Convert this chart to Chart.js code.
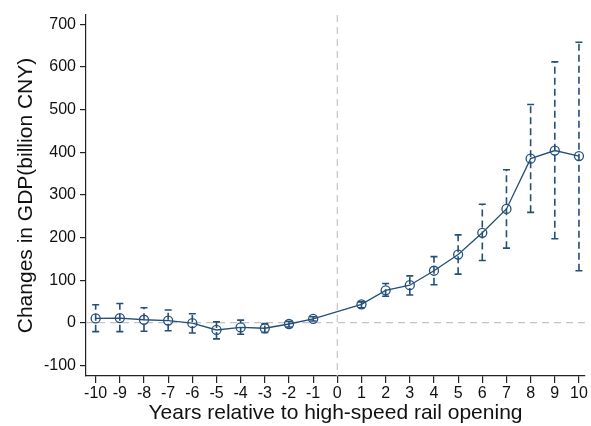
<!DOCTYPE html>
<html><head><meta charset="utf-8">
<script src="https://cdn.jsdelivr.net/npm/chart.js@4"></script>
<style>html,body{margin:0;padding:0;background:#fff}#wrap{width:591px;height:426px}</style>
</head><body><div id="wrap"><canvas id="c" width="591" height="426"></canvas></div>
<script>
const years=[-10,-9,-8,-7,-6,-5,-4,-3,-2,-1,1,2,3,4,5,6,7,8,9,10];
const coef=[10,11,7,5,-1,-17,-11,-13,-3,9,43,76,88,122,160,211,267,385,404,391];
const ciLow=[-21,-21,-20,-19,-24,-38,-27,-23,-10,4,35,62,65,89,114,146,175,259,197,122];
const ciHigh=[42,45,35,30,21,2,6,-2,3,14,49,92,110,155,206,278,359,512,612,658];
const xTicks=[-10,-9,-8,-7,-6,-5,-4,-3,-2,-1,0,1,2,3,4,5,6,7,8,9,10];
const yTicks=[-100,0,100,200,300,400,500,600,700];
const navy='#234f78';

const refAndErr={
  id:'refAndErr',
  beforeDatasetsDraw(chart){
    const {ctx,chartArea:a,scales:{x,y}}=chart;
    ctx.save();
    ctx.strokeStyle='#c4c4c4';ctx.lineWidth=1.2;ctx.setLineDash([7,5]);
    const y0=y.getPixelForValue(0);
    ctx.beginPath();ctx.moveTo(a.left,y0);ctx.lineTo(a.right,y0);ctx.stroke();
    const x0=x.getPixelForValue(0);
    ctx.beginPath();ctx.moveTo(x0,a.top);ctx.lineTo(x0,a.bottom);ctx.stroke();
    ctx.strokeStyle=navy;ctx.lineWidth=1.6;
    years.forEach((yr,i)=>{
      const px=x.getPixelForValue(yr),pl=y.getPixelForValue(ciLow[i]),ph=y.getPixelForValue(ciHigh[i]);
      ctx.setLineDash([7,4]);
      ctx.beginPath();ctx.moveTo(px,pl);ctx.lineTo(px,ph);ctx.stroke();
      ctx.setLineDash([]);
      ctx.beginPath();ctx.moveTo(px-3.5,pl);ctx.lineTo(px+3.5,pl);ctx.moveTo(px-3.5,ph);ctx.lineTo(px+3.5,ph);ctx.stroke();
    });
    ctx.restore();
  }
};

new Chart(document.getElementById('c'),{
  type:'line',
  data:{datasets:[{
    data:years.map((v,i)=>({x:v,y:coef[i]})),
    borderColor:navy,borderWidth:1.3,backgroundColor:'rgba(0,0,0,0)',
    pointRadius:4.5,pointBorderWidth:1.3,pointBorderColor:navy,pointBackgroundColor:'rgba(0,0,0,0)',
    tension:0
  }]},
  options:{
    responsive:false,animation:false,devicePixelRatio:1,
    layout:{padding:{left:0,right:6,top:15,bottom:0}},
    plugins:{legend:{display:false},tooltip:{enabled:false}},
    scales:{
      x:{type:'linear',min:-10.4,max:10.25,
        afterBuildTicks(s){s.ticks=xTicks.map(v=>({value:v}));},
        afterFit(s){s.height=50;},
        border:{display:true,color:'#222',width:1.2},
        grid:{display:true,drawOnChartArea:false,drawTicks:true,tickLength:7,color:'#222',lineWidth:1.2},
        ticks:{color:'#111',font:{family:'Liberation Sans',size:16},padding:1,maxRotation:0,autoSkip:false},
        title:{display:true,text:'Years relative to high-speed rail opening',color:'#111',font:{family:'Liberation Sans',size:21},padding:{top:0,bottom:0}}
      },
      y:{type:'linear',min:-125,max:722,
        afterBuildTicks(s){s.ticks=yTicks.map(v=>({value:v}));},
        afterFit(s){s.width=86;},
        border:{display:true,color:'#222',width:1.2},
        grid:{display:true,drawOnChartArea:false,drawTicks:true,tickLength:6,color:'#222',lineWidth:1.2},
        ticks:{color:'#111',font:{family:'Liberation Sans',size:16},padding:4},
        title:{display:true,text:'Changes in GDP(billion CNY)',color:'#111',font:{family:'Liberation Sans',size:21},padding:{top:14,bottom:0}}
      }
    }
  },
  plugins:[refAndErr]
});
</script></body></html>
